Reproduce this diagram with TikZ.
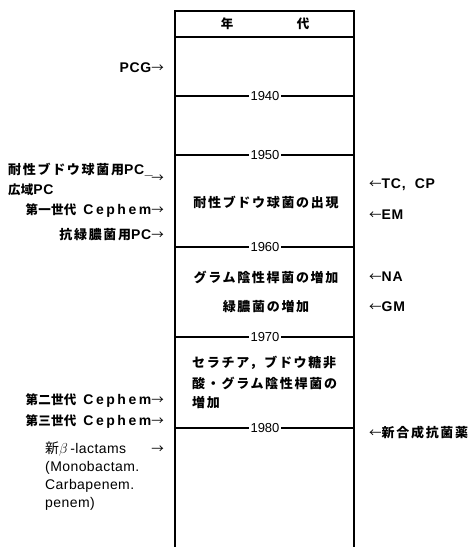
\documentclass[tikz,border=0pt]{standalone}
\usepackage{fontspec}
\newfontfamily\jpnfont[LetterSpace=2]{Noto Sans CJK JP}
\newfontfamily\jpwfont[LetterSpace=13]{Noto Sans CJK JP}
\newfontfamily\latfont[LetterSpace=5]{Liberation Sans}
\newfontfamily\latwfont[LetterSpace=18]{Liberation Sans}
\newfontfamily\latrfont[LetterSpace=3]{Liberation Sans}
\newfontfamily\yrfont{Liberation Sans}
\newcommand\jtxt[1]{{\jpnfont\bfseries\fontsize{12.5}{14}\selectfont #1}}
\newcommand\jwide[1]{{\jpwfont\bfseries\fontsize{13}{14}\selectfont #1}}
\newcommand\ltxt[1]{{\latfont\bfseries\fontsize{14}{16}\selectfont #1}}
\newcommand\lwide[1]{{\latwfont\bfseries\fontsize{14}{16}\selectfont #1}}
\newcommand\rarr{{\jpnfont\fontsize{12.5}{14}\selectfont →}}
\newcommand\larr{{\jpnfont\fontsize{12.5}{14}\selectfont ←}}
\begin{document}
\begin{tikzpicture}[x=1pt,y=-1pt,
  lbl/.style={inner sep=0pt},
  yearlbl/.style={inner sep=1.5pt,font=\yrfont\fontsize{13}{14}\selectfont},
  border/.style={line width=1.4pt},
  yline/.style={line width=1.1pt}]
\useasboundingbox (0,0) rectangle (475,547);
% column
\coordinate (TL) at (175,11); \coordinate (TR) at (354,11);
\coordinate (BL) at (175,547); \coordinate (BR) at (354,547);
\coordinate (HL) at (175,37); \coordinate (HR) at (354,37);
\draw[border] (BL) -- (TL) -- (TR) -- (BR);
\draw[border] (HL) -- (HR);
\node[lbl] (nen) at (227,24) {\jtxt{年}};
\node[lbl] (dai) at (303,24) {\jtxt{代}};
% year lines
\foreach \yv/\yy in {1940/96,1950/155,1960/247,1970/337,1980/428}{
  \coordinate (L\yv) at (175,\yy);
  \coordinate (R\yv) at (354,\yy);
  \node[yearlbl] (y\yv) at (265,\yy) {\yv};
  \draw[yline] (L\yv) -- (y\yv.west);
  \draw[yline] (y\yv.east) -- (R\yv);
}
% inner texts
\node[lbl] (e1) at (266,202) {\jwide{耐性ブドウ球菌の出現}};
\node[lbl] (e2) at (266,277) {\jwide{グラム陰性桿菌の増加}};
\node[lbl] (e3) at (266,307) {\jwide{緑膿菌の増加}};
\node[lbl,anchor=west] (e4a) at (192,363) {\jwide{セラチア，ブドウ糖非}};
\node[lbl,anchor=west] (e4b) at (192,383) {\jwide{酸・グラム陰性桿菌の}};
\node[lbl,anchor=west] (e4c) at (192,403) {\jwide{増加}};
% left labels
\node[lbl,anchor=east] (pcg) at (164,68) {\ltxt{PCG}\rarr};
\node[lbl,anchor=west] (tai) at (8,170) {\jwide{耐性ブドウ球菌用}\ltxt{PC\_}};
\node[lbl,anchor=east] (taiar) at (164,179) {\rarr};
\node[lbl,anchor=west] (koiki) at (8,190) {\jtxt{広域}\ltxt{PC}};
\node[lbl,anchor=east] (c1) at (164,211) {\jtxt{第一世代}\hspace{7pt}\lwide{Cephem}\rarr};
\node[lbl,anchor=east] (apc) at (164,235) {\jwide{抗緑膿菌用}\ltxt{PC}\rarr};
\node[lbl,anchor=east] (c2) at (164,401) {\jtxt{第二世代}\hspace{7pt}\lwide{Cephem}\rarr};
\node[lbl,anchor=east] (c3) at (164,422) {\jtxt{第三世代}\hspace{7pt}\lwide{Cephem}\rarr};
\node[lbl,anchor=north west,align=left,font=\latrfont\fontsize{14}{18}\selectfont] (bl) at (45,442)
  {{\jpnfont 新}$\beta$\,-lactams\\(Monobactam.\\Carbapenem.\\penem)};
\node[lbl,anchor=east] (blar) at (164,450) {\rarr};
% right labels
\node[lbl,anchor=west] (tc) at (369,185) {\larr\ltxt{TC,\ \ CP}};
\node[lbl,anchor=west] (em) at (369,215) {\larr\ltxt{EM}};
\node[lbl,anchor=west] (na) at (369,277) {\larr\ltxt{NA}};
\node[lbl,anchor=west] (gm) at (369,307) {\larr\ltxt{GM}};
\node[lbl,anchor=west] (shin) at (369,433) {\larr\jwide{新合成抗菌薬}};
\end{tikzpicture}
\end{document}
